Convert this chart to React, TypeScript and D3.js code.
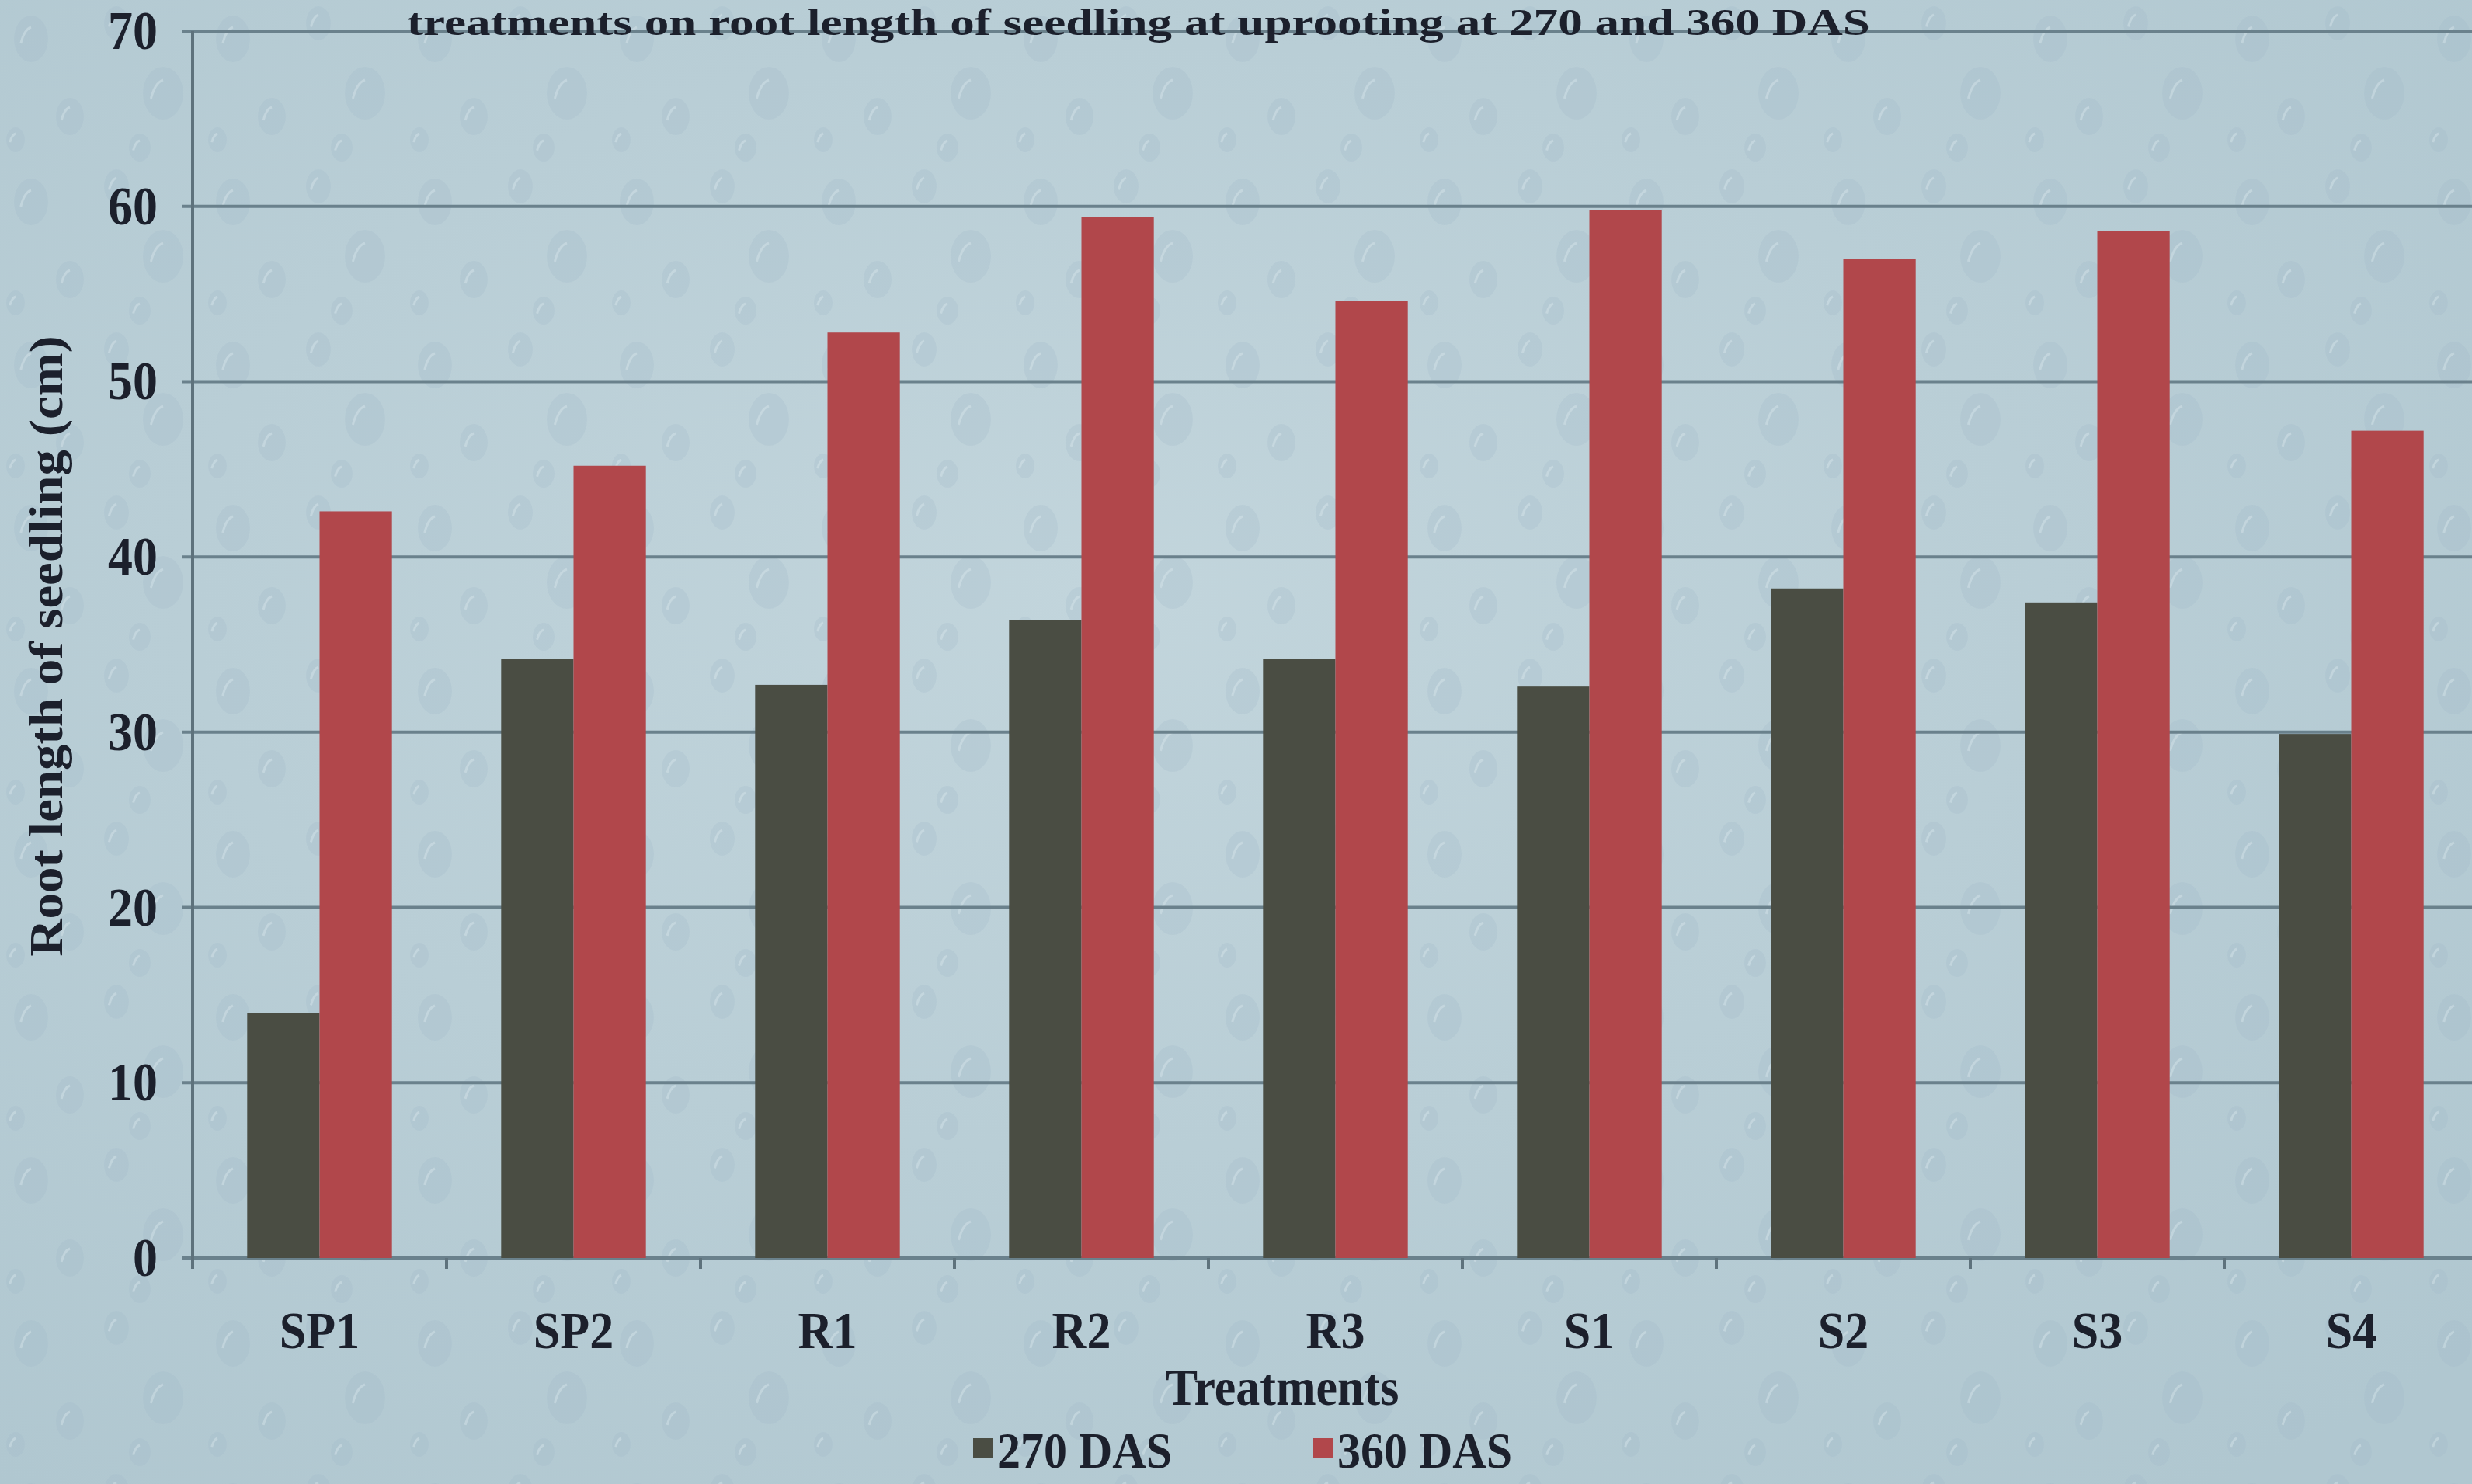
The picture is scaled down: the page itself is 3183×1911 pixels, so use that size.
import { useEffect, useRef } from 'react'
import * as d3 from 'd3'

const W = 3183
const H = 1911

// treatments on x axis
const treatments = ['SP1', 'SP2', 'R1', 'R2', 'R3', 'S1', 'S2', 'S3', 'S4']
const das270 = [14.0, 34.2, 32.7, 36.4, 34.2, 32.6, 38.2, 37.4, 29.9]
const das360 = [42.6, 45.2, 52.8, 59.4, 54.6, 59.8, 57.0, 58.6, 47.2]
const seriesNames = ['270 DAS', '360 DAS']
const seriesColors = ['#4a4d43', '#b1474b']
const yTicks = [0, 10, 20, 30, 40, 50, 60, 70]

const titleText = 'treatments on root length of seedling at uprooting at 270 and 360 DAS'
const xTitle = 'Treatments'
const yTitle = 'Root length of seedling (cm)'

function App() {
	const ref = useRef<SVGSVGElement>(null)

	useEffect(() => {
		document.body.style.margin = '0'
		const svg = d3.select(ref.current)
		svg.selectAll('*').remove()

		const marginLeft = 248
		const marginTop = 40
		const plotRight = 3191
		const plotBottom = 1620
		const font = '"Liberation Serif", "Times New Roman", serif'
		const ink = '#1c202c'
		const stretch = 1.08 // the photo's type looks a bit taller than plain Times

		// background with a faint drop texture
		const defs = svg.append('defs')
		const grad = defs.append('radialGradient').attr('id', 'bg').attr('cx', '45%').attr('cy', '40%').attr('r', '75%')
		grad.append('stop').attr('offset', '0%').attr('stop-color', '#c2d5dc')
		grad.append('stop').attr('offset', '100%').attr('stop-color', '#b0c7d0')
		const pat = defs.append('pattern').attr('id', 'drops').attr('width', 260).attr('height', 210).attr('patternUnits', 'userSpaceOnUse')
		const drops = [[40, 50, 22, 30], [150, 30, 16, 22], [210, 120, 26, 34], [90, 150, 18, 24], [20, 180, 12, 16], [180, 190, 14, 18]]
		drops.forEach(d => {
			pat.append('ellipse').attr('cx', d[0]).attr('cy', d[1]).attr('rx', d[2]).attr('ry', d[3])
				.attr('fill', '#9fb9c6').attr('opacity', 0.25)
			pat.append('path').attr('d', `M${d[0] - d[2] * 0.6},${d[1] + d[3] * 0.2} q${d[2] * 0.2},${-d[3] * 0.6} ${d[2] * 0.6},${-d[3] * 0.7}`)
				.attr('stroke', '#dbe8ee').attr('stroke-width', 3).attr('fill', 'none').attr('opacity', 0.4)
		})

		svg.append('rect').attr('width', W).attr('height', H).attr('fill', 'url(#bg)')
		svg.append('rect').attr('width', W).attr('height', H).attr('fill', 'url(#drops)')

		const x = d3.scaleBand().domain(treatments).range([marginLeft, plotRight]).paddingInner(0.43).paddingOuter(0.215)
		const xSub = d3.scaleBand().domain(seriesNames).range([0, x.bandwidth()])
		const y = d3.scaleLinear().domain([0, 70]).range([plotBottom, marginTop])

		// gridlines
		svg.append('g').selectAll('line').data(yTicks).join('line')
			.attr('x1', marginLeft - 14).attr('x2', W)
			.attr('y1', d => y(d)).attr('y2', d => y(d))
			.attr('stroke', '#6a818c').attr('stroke-width', 4)

		// bars
		const groups = svg.append('g').selectAll('g').data(treatments).join('g')
			.attr('transform', d => `translate(${x(d)},0)`)
		groups.selectAll('rect')
			.data((d, i) => [das270[i], das360[i]].map((v, j) => ({ key: seriesNames[j], v, c: seriesColors[j] })))
			.join('rect')
			.attr('x', d => xSub(d.key))
			.attr('width', xSub.bandwidth())
			.attr('y', d => y(d.v))
			.attr('height', d => y(0) - y(d.v))
			.attr('fill', d => d.c)

		// axis lines
		svg.append('line').attr('x1', marginLeft).attr('x2', marginLeft).attr('y1', marginTop).attr('y2', plotBottom + 14)
			.attr('stroke', '#5e727c').attr('stroke-width', 4)
		const step = x.step()
		svg.append('g').selectAll('line').data(treatments.slice(1)).join('line')
			.attr('x1', d => x(d) - step * 0.215).attr('x2', d => x(d) - step * 0.215)
			.attr('y1', plotBottom).attr('y2', plotBottom + 14)
			.attr('stroke', '#5e727c').attr('stroke-width', 4)

		const label = (g, px, py, size, anchor, txt) => g.append('text')
			.attr('transform', `translate(${px},${py}) scale(1,${stretch})`)
			.attr('text-anchor', anchor)
			.attr('font-family', font).attr('font-weight', 'bold').attr('font-size', size)
			.attr('fill', ink)
			.text(txt)

		// y tick labels
		const yl = svg.append('g')
		yTicks.forEach(t => label(yl, 203, y(t) + 23, 64, 'end', t))

		// x tick labels
		const xl = svg.append('g')
		treatments.forEach(t => label(xl, x(t) + x.bandwidth() / 2, 1736, 62, 'middle', t))

		label(svg, 1651, 1809, 62, 'middle', xTitle)

		svg.append('text').attr('transform', `translate(80,832) rotate(-90) scale(${stretch},1)`).attr('text-anchor', 'middle')
			.attr('font-family', font).attr('font-weight', 'bold').attr('font-size', 62).attr('fill', ink)
			.text(yTitle)

		svg.append('text').attr('x', 524).attr('y', 45)
			.attr('font-family', font).attr('font-weight', 'bold').attr('font-size', 48).attr('fill', ink)
			.attr('textLength', 1884).attr('lengthAdjust', 'spacingAndGlyphs')
			.text(titleText)

		// legend
		const legendX = [1253, 1691]
		seriesNames.forEach((s, i) => {
			svg.append('rect').attr('x', legendX[i]).attr('y', 1852).attr('width', 25).attr('height', 26).attr('fill', seriesColors[i])
			label(svg, legendX[i] + 31, 1890, 60, 'start', s)
		})
	}, [])

	return <svg ref={ref} width={W} height={H} style={{ display: 'block' }} />
}

export default App
